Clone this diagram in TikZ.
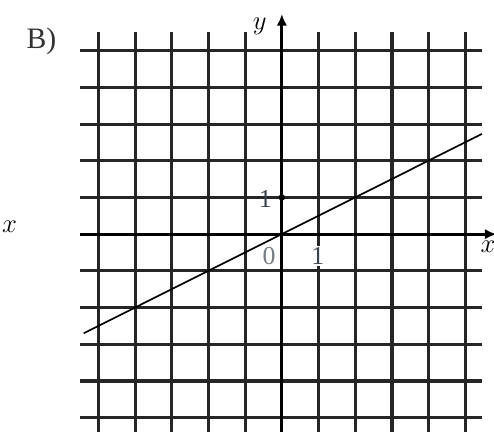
\documentclass[tikz,border=0pt]{standalone}
\usepackage{fontspec}
\setmainfont{Liberation Serif}
\usetikzlibrary{arrows.meta}
\definecolor{inkgray}{RGB}{60,66,78}
\tikzset{
  gridline/.style={line width=2.4pt,black!85},
  axisline/.style={line width=2.4pt,black,-{Latex[length=9pt,width=8pt]}},
  graphline/.style={line width=1.3pt,black},
  lbl/.style={font=\fontsize{20}{22}\selectfont,text=inkgray,inner sep=1pt}
}

\begin{document}
\begin{tikzpicture}[x=1cm,y=1cm]
  \useasboundingbox (-7.68,-5.37) rectangle (5.78,6.38);
  % grid
  \foreach \k in {-5,...,5}
    \draw[gridline] (-5.5,\k) -- (5.45,\k);
  \foreach \k in {-5,-4,-3,-2,-1,1,2,3,4,5}
    \draw[gridline] (\k,-5.6) -- (\k,5.5);
  % axes
  \coordinate (ybot) at (0,-5.6);
  \coordinate (ytop) at (0,6.0);
  \coordinate (xleft) at (-5.5,0);
  \coordinate (xright) at (5.85,0);
  \draw[axisline] (ybot) -- (ytop);
  \draw[axisline] (xleft) -- (xright);
  % graph y = x/2
  \coordinate (gstart) at (-5.4,-2.7);
  \coordinate (gend) at (5.45,2.73);
  \draw[graphline] (gstart) -- (gend);
  % labels
  \node[lbl,text=black!80,font=\fontsize{23}{25}\selectfont] (part) at (-6.55,5.25) {B)};
  \node[lbl,text=black] (ylab) at (-0.6,5.65) {$y$};
  \node[lbl,text=black] (xlab) at (5.62,-0.35) {$x$};
  \node[lbl,text=black] (xcut) at (-7.42,0.2) {$x$};
  \fill[black] (0,1) circle (2.5pt);
  \node[lbl] (yone) at (-0.45,0.95) {1};
  \node[lbl,text=inkgray!70] (zero) at (-0.35,-0.6) {0};
  \node[lbl,fill=white] (xone) at (0.98,-0.6) {1};
\end{tikzpicture}
\end{document}
